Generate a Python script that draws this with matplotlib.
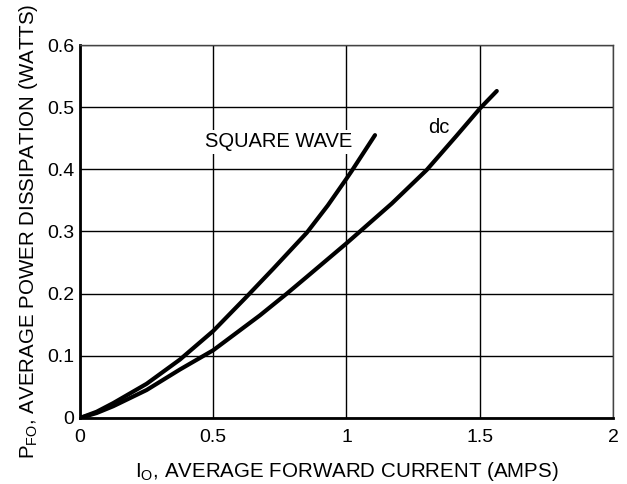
import matplotlib
matplotlib.use("Agg")
import matplotlib.pyplot as plt

plt.rcParams['font.family'] = ['Liberation Sans', 'DejaVu Sans']

# square wave curve
sq_current = [0, 0.0625, 0.125, 0.25, 0.375, 0.5, 0.625, 0.725, 0.851, 0.93, 1.0, 1.019, 1.107]
sq_power = [0, 0.010, 0.024, 0.055, 0.094, 0.140, 0.195, 0.240, 0.298, 0.342, 0.385, 0.397, 0.455]

# dc curve
dc_current = [0, 0.0625, 0.125, 0.25, 0.375, 0.5, 0.675, 0.776, 0.851, 1.0, 1.17, 1.301, 1.413, 1.501, 1.564]
dc_power = [0, 0.008, 0.019, 0.045, 0.078, 0.109, 0.165, 0.200, 0.227, 0.281, 0.345, 0.399, 0.454, 0.498, 0.526]

x_ticks = [0, 0.5, 1, 1.5, 2]
x_tick_labels = ['0', '0.5', '1', '1.5', '2']
y_ticks = [0, 0.1, 0.2, 0.3, 0.4, 0.5, 0.6]
y_tick_labels = ['0', '0.1', '0.2', '0.3', '0.4', '0.5', '0.6']

fig = plt.figure(figsize=(6.27, 4.84), dpi=100)
ax = fig.add_axes([0.1276, 0.1364, 0.85, 0.7706])

ax.plot(sq_current, sq_power, color='black', lw=3, solid_capstyle='round',
        solid_joinstyle='round', zorder=3)
ax.plot(dc_current, dc_power, color='black', lw=3, solid_capstyle='round',
        solid_joinstyle='round', zorder=3)

ax.set_xlim(0, 2)
ax.set_ylim(0, 0.6)
ax.set_xticks(x_ticks)
ax.set_xticklabels(x_tick_labels)
ax.set_yticks(y_ticks)
ax.set_yticklabels(y_tick_labels)
ax.tick_params(length=0, labelsize=14)
ax.tick_params(axis='x', pad=8)
ax.tick_params(axis='y', pad=4)
ax.grid(True, color='black', lw=1)
ax.set_axisbelow(True)

for side in ['left', 'bottom']:
    ax.spines[side].set_linewidth(2)
for side in ['top', 'right']:
    ax.spines[side].set_linewidth(1)
    ax.spines[side].set_color('#444444')

ax.text(0.469, 0.444, 'SQUARE WAVE', fontsize=14.5, va='center', ha='left',
        bbox=dict(facecolor='white', edgecolor='none', pad=2), zorder=2)
ax.text(1.306, 0.467, 'dc', fontsize=14.5, va='center', ha='left',
        bbox=dict(facecolor='white', edgecolor='none', pad=1), zorder=2)

ax.set_xlabel('I$_\\mathregular{O}$, AVERAGE FORWARD CURRENT (AMPS)', fontsize=14.8, labelpad=10)
ax.set_ylabel('P$_\\mathregular{FO}$, AVERAGE POWER DISSIPATION (WATTS)', fontsize=14.8, labelpad=5)

fig.savefig('out.png', dpi=100)
